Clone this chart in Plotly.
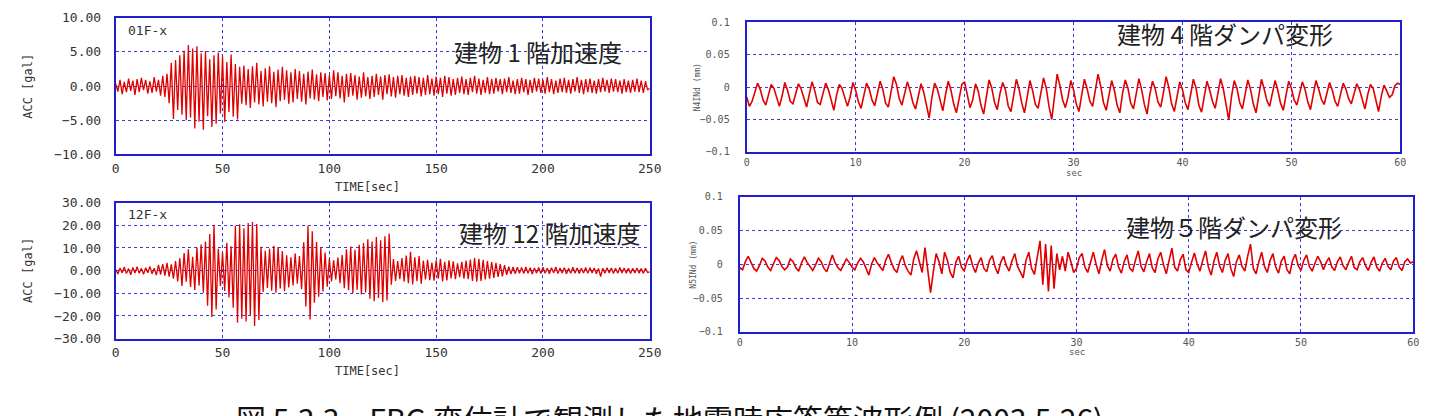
import numpy as np
import plotly.graph_objects as go

# ---------------- data ----------------
acc_dt = 1.0  # sec per sample (left panels)
acc01 = [
    0.3, -0.8, 0.9, -1.2, 0.6, -0.9, 1.1, -0.7, 0.8, -1.3,
    1.0, -0.9, 1.2, -0.6, 0.9, -1.1, 0.7, -1.0, 1.3, -0.8,
    0.9, -1.4, 1.5, -1.6, 1.8, -2.5, 3.4, -4.8, 3.8, -3.5,
    4.5, -4.2, 5.2, -5.0, 6.0, -4.6, 5.5, -6.2, 5.8, -5.2,
    4.8, -6.4, 5.1, -4.4, 3.9, -6.0, 4.5, -5.5, 4.9, -4.0,
    4.3, -5.2, 3.5, -3.8, 4.6, -4.5, 3.2, -4.9, 2.8, -2.6,
    3.0, -2.8, 2.5, -3.2, 2.9, -2.4, 3.4, -2.7, 2.2, -3.0,
    2.6, -2.3, 2.9, -2.5, 2.1, -3.1, 2.4, -2.2, 2.8, -2.0,
    2.3, -2.6, 2.0, -2.4, 2.5, -1.9, 2.2, -2.3, 1.8, -2.7,
    2.1, -1.8, 2.4, -2.0, 1.7, -2.2, 2.0, -1.6, 1.9, -2.1,
    1.6, -1.9, 2.3, -1.5, 2.0, -1.8, 1.5, -2.4, 1.8, -1.6,
    1.9, -1.4, 1.6, -2.0, 1.4, -1.7, 2.0, -1.5, 1.3, -1.9,
    1.5, -1.6, 1.8, -1.3, 1.4, -2.0, 1.6, -1.2, 1.7, -1.5,
    1.3, -1.7, 1.5, -1.2, 1.6, -1.4, 1.2, -1.6, 1.4, -1.3,
    1.5, -1.1, 1.3, -1.5, 1.2, -1.3, 1.6, -1.2, 1.1, -1.4,
    1.4, -1.2, 1.2, -1.6, 1.5, -1.1, 1.3, -1.4, 1.0, -1.3,
    1.2, -1.0, 1.4, -1.2, 1.0, -1.3, 1.2, -0.9, 1.5, -1.1,
    1.1, -1.3, 0.9, -1.0, 1.3, -1.2, 1.0, -1.1, 1.2, -0.8,
    1.0, -1.2, 1.1, -0.9, 1.3, -1.0, 0.8, -1.2, 1.0, -1.1,
    1.2, -0.9, 1.0, -1.3, 0.9, -1.0, 1.2, -0.8, 1.1, -1.0,
    0.9, -1.1, 1.3, -0.9, 1.0, -1.2, 0.8, -1.0, 1.1, -0.9,
    1.2, -1.0, 0.9, -1.1, 1.0, -0.8, 1.3, -1.0, 0.9, -1.2,
    1.0, -0.9, 1.1, -1.0, 0.8, -1.1, 1.0, -0.9, 1.2, -0.8,
    0.9, -1.0, 1.1, -0.8, 1.0, -0.9, 0.8, -1.1, 1.0, -0.9,
    0.8, -1.0, 0.9, -0.8, 1.1, -0.9, 0.8, -1.0, 0.7, -0.6, -0.3,
]
acc12 = [
    0.5, -1.5, 1.2, -1.0, 1.6, -1.3, 0.9, -1.8, 1.4, -1.1,
    1.7, -1.2, 1.0, -1.6, 1.3, -0.9, 1.8, -1.4, 1.1, -2.0,
    2.5, -1.8, 2.9, -2.2, 3.4, -2.6, 2.8, -3.5, 4.2, -4.8,
    5.5, -6.8, 7.8, -4.9, 9.4, -7.2, 6.1, -8.5, 10.2, -6.6,
    11.5, -9.8, 12.8, -15.5, 16.2, -20.5, 20.3, -17.2, 9.6, -6.8,
    7.9, -9.0, 12.3, -11.8, 10.7, -16.4, 19.8, -23.0, 20.5, -21.2,
    18.7, -22.4, 21.0, -19.6, 21.5, -24.4, 20.6, -21.8, 10.5, -9.4,
    8.8, -7.6, 9.7, -8.9, 11.0, -9.8, 10.4, -7.9, 8.6, -9.1,
    6.8, -7.4, 5.9, -6.5, 7.6, -5.8, 6.4, -8.2, 12.5, -15.8,
    19.8, -21.6, 17.4, -14.2, 12.6, -11.5, 10.3, -9.2, 8.0, -7.1,
    5.2, -4.8, 4.5, -3.9, 5.8, -5.5, 6.9, -7.8, 9.4, -8.6,
    10.6, -9.9, 9.2, -8.4, 11.4, -10.5, 12.2, -9.6, 13.8, -12.4,
    12.9, -13.5, 14.8, -12.1, 13.4, -14.0, 15.2, -13.2, 16.4, -6.2,
    5.1, -4.6, 4.2, -3.8, 5.6, -4.9, 6.7, -5.5, 8.3, -6.1,
    5.9, -4.7, 6.4, -5.8, 4.4, -3.9, 4.8, -4.2, 3.6, -4.4,
    4.5, -3.6, 5.2, -4.8, 3.9, -4.3, 4.6, -3.4, 4.1, -3.8,
    3.2, -2.9, 3.9, -3.5, 4.4, -3.8, 4.9, -4.6, 5.6, -4.9,
    5.2, -4.5, 4.8, -3.9, 4.2, -3.6, 3.8, -3.2, 3.4, -2.8,
    2.9, -2.5, 2.4, -1.9, 1.8, -1.5, 1.6, -1.4, 1.5, -1.2,
    1.4, -1.3, 1.6, -1.2, 1.3, -1.5, 1.2, -1.1, 1.4, -1.3,
    1.5, -1.2, 1.1, -1.4, 1.3, -1.0, 1.6, -1.3, 1.2, -1.1,
    1.3, -1.4, 1.0, -1.2, 1.5, -1.1, 1.2, -1.3, 1.1, -1.0,
    1.4, -1.2, 1.3, -1.0, 1.2, -1.4, 1.0, -2.6, 1.1, -1.2,
    1.3, -1.0, 1.2, -1.3, 1.1, -1.2, 1.4, -1.0, 1.2, -1.1,
    1.0, -1.3, 1.1, -1.0, 1.2, -1.1, 0.9, -1.2, 1.0, -0.8, -0.5,
]

dmp_dt = 0.25  # sec per sample (right panels)
n4ind = [
    -0.015, -0.030, -0.022, -0.008, 0.006, -0.004, -0.020, -0.028, -0.012, 0.004, -0.002, -0.018, -0.030, -0.014, 0.007, -0.005, -0.022, -0.026, -0.010, 0.005,
    -0.003, -0.019, -0.031, -0.011, 0.008, -0.006, -0.024, -0.027, -0.009, 0.006, -0.004, -0.021, -0.036, -0.013, 0.004, -0.002, -0.018, -0.030, -0.015, 0.007,
    -0.005, -0.023, -0.033, -0.012, 0.006, -0.003, -0.020, -0.029, -0.008, 0.009, -0.004, -0.025, -0.031, -0.010, 0.016, 0.004, -0.018, -0.028, -0.011, 0.008,
    -0.006, -0.024, -0.034, -0.014, 0.005, -0.008, -0.030, -0.048, -0.016, 0.006, -0.003, -0.022, -0.037, -0.012, 0.009, -0.005, -0.026, -0.040, -0.015, 0.004,
    0.008, -0.014, -0.032, -0.020, 0.005, -0.006, -0.028, -0.042, -0.013, 0.011, -0.002, -0.024, -0.035, -0.010, 0.007, -0.004, -0.029, -0.038, -0.014, 0.012,
    -0.003, -0.025, -0.040, -0.011, 0.010, -0.006, -0.027, -0.033, -0.009, 0.014, -0.002, -0.030, -0.050, -0.012, 0.020, 0.002, -0.020, -0.032, -0.015, 0.010,
    -0.004, -0.026, -0.038, -0.012, 0.012, -0.003, -0.022, -0.030, -0.008, 0.020, 0.001, -0.024, -0.036, -0.013, 0.010, -0.005, -0.028, -0.040, -0.010, 0.011,
    -0.002, -0.025, -0.034, -0.011, 0.013, -0.004, -0.027, -0.042, -0.012, 0.009, -0.003, -0.023, -0.031, -0.009, 0.016, -0.001, -0.026, -0.038, -0.014, 0.008,
    -0.004, -0.024, -0.035, -0.010, 0.012, -0.002, -0.028, -0.039, -0.013, 0.009, -0.005, -0.022, -0.033, -0.011, 0.013, -0.003, -0.030, -0.051, -0.015, 0.010,
    -0.002, -0.024, -0.034, -0.012, 0.011, -0.004, -0.026, -0.040, -0.010, 0.012, -0.003, -0.021, -0.030, -0.008, 0.010, -0.005, -0.025, -0.036, -0.012, 0.009,
    -0.002, -0.020, -0.028, -0.009, 0.008, -0.004, -0.023, -0.035, -0.011, 0.010, -0.003, -0.019, -0.027, -0.012, 0.007, -0.005, -0.022, -0.030, -0.010, 0.006,
    -0.003, -0.018, -0.026, -0.011, 0.005, -0.004, -0.021, -0.034, -0.012, 0.004, -0.002, -0.020, -0.038, -0.014, 0.003, -0.006, -0.016, -0.012, 0.002, 0.006,
    0.004,
]
n5ind = [
    -0.005, -0.008, 0.004, 0.012, 0.003, -0.006, -0.010, -0.002, 0.009, 0.005, -0.004, -0.009, 0.001, 0.010, 0.006, -0.003, -0.008, -0.004, 0.008, 0.004,
    -0.005, -0.010, 0.002, 0.011, 0.003, -0.004, -0.009, -0.001, 0.009, 0.004, -0.006, -0.011, 0.003, 0.014, 0.002, -0.005, -0.009, 0.000, 0.008, 0.003,
    -0.004, -0.008, 0.002, 0.009, 0.004, -0.006, -0.016, 0.001, 0.010, 0.002, -0.003, -0.009, 0.006, 0.015, 0.003, -0.007, -0.012, 0.004, 0.013, -0.002,
    -0.010, -0.016, 0.008, 0.020, 0.004, -0.012, 0.025, -0.008, -0.042, -0.010, 0.016, 0.004, -0.014, 0.018, 0.006, -0.012, -0.020, 0.003, 0.012, -0.004,
    -0.010, 0.005, 0.014, -0.002, -0.012, 0.002, 0.010, -0.006, -0.011, 0.006, 0.013, -0.004, -0.014, 0.003, 0.012, -0.002, -0.010, 0.005, 0.016, -0.003,
    -0.012, -0.020, 0.006, 0.018, -0.006, -0.015, 0.010, 0.035, -0.030, 0.030, -0.040, 0.028, -0.036, 0.016, -0.008, 0.012, -0.010, 0.018, 0.004, -0.012,
    -0.006, 0.010, 0.016, -0.004, -0.012, 0.005, 0.018, 0.000, -0.014, 0.006, 0.022, -0.002, -0.010, 0.008, 0.015, -0.004, -0.013, 0.004, 0.014, -0.006,
    -0.010, 0.006, 0.020, -0.003, -0.011, 0.004, 0.016, -0.005, -0.012, 0.008, 0.018, 0.000, -0.014, 0.006, 0.024, -0.004, -0.010, 0.007, 0.015, -0.008,
    -0.012, 0.003, 0.017, 0.001, -0.010, 0.006, 0.020, -0.004, -0.016, 0.005, 0.018, -0.002, -0.012, 0.006, 0.016, -0.006, -0.018, 0.004, 0.014, -0.003,
    -0.010, 0.012, 0.030, -0.006, -0.014, 0.004, 0.018, -0.003, -0.012, 0.006, 0.016, -0.004, -0.013, 0.005, 0.012, -0.008, -0.014, 0.006, 0.015, -0.002,
    -0.009, 0.006, 0.014, -0.003, -0.010, 0.002, 0.012, 0.004, -0.008, 0.003, 0.010, -0.004, -0.009, 0.004, 0.011, -0.002, -0.008, 0.003, 0.012, -0.005,
    -0.008, 0.004, 0.010, -0.002, -0.009, 0.003, 0.011, -0.004, -0.010, 0.002, 0.009, -0.003, -0.008, 0.005, 0.010, -0.004, -0.009, 0.004, 0.008, 0.002,
    0.004,
]

acc_xticks = [0, 50, 100, 150, 200, 250]
acc01_yticks = [-10, -5, 0, 5, 10]
acc12_yticks = [-30, -20, -10, 0, 10, 20, 30]
dmp_xticks = [0, 10, 20, 30, 40, 50, 60]
dmp_yticks = [-0.1, -0.05, 0, 0.05, 0.1]

panel_labels = ["01F-x", "12F-x"]
panel_titles = ["建物 1 階加速度", "建物 12 階加速度", "建物 4 階ダンパ変形", "建物５階ダンパ変形"]
caption = "図 5.3.3　FBG 変位計で観測した地震時応答等波形例 (2003.5.26)"

# ---------------- figure ----------------
W, H = 1445, 416
def px(x):
    return x / W
def py(y):
    return 1 - y / H

t01 = np.arange(len(acc01)) * acc_dt
t12 = np.arange(len(acc12)) * acc_dt
t4 = np.arange(len(n4ind)) * dmp_dt
t5 = np.arange(len(n5ind)) * dmp_dt

RED = "#e00000"
BLUE = "#1f1fd0"
GRID = "#3a3ae0"

fig = go.Figure()
fig.add_trace(go.Scatter(x=t01, y=acc01, mode="lines", line=dict(color=RED, width=1.3), xaxis="x", yaxis="y"))
fig.add_trace(go.Scatter(x=t12, y=acc12, mode="lines", line=dict(color=RED, width=1.3), xaxis="x2", yaxis="y2"))
fig.add_trace(go.Scatter(x=t4, y=n4ind, mode="lines", line=dict(color=RED, width=1.6), xaxis="x3", yaxis="y3"))
fig.add_trace(go.Scatter(x=t5, y=n5ind, mode="lines", line=dict(color=RED, width=1.6), xaxis="x4", yaxis="y4"))

def ax(domain, rng, tickvals, anchor, fsize, fcolor, standoff, fmt=None):
    d = dict(domain=domain, range=rng, tickvals=tickvals, anchor=anchor,
             showline=True, mirror=True, linecolor=BLUE, linewidth=2,
             showgrid=True, gridcolor=GRID, gridwidth=1, griddash="dot",
             zeroline=False, ticks="", ticklabelstandoff=standoff,
             tickfont=dict(family="DejaVu Sans Mono, monospace", size=fsize, color=fcolor))
    if fmt:
        d["tickformat"] = fmt
    return d

LF, LC = 13, "#333333"
RF, RC = 10, "#555555"

fig.update_layout(
    width=W, height=H, margin=dict(l=0, r=0, t=0, b=0),
    paper_bgcolor="white", plot_bgcolor="white", showlegend=False,
    xaxis=ax([px(113), px(653)], [0, 250], acc_xticks, "y", LF, LC, 1),
    yaxis=ax([py(153), py(11)], [-10, 10], acc01_yticks, "x", LF, LC, 10, ".2f"),
    xaxis2=ax([px(113), px(653)], [0, 250], acc_xticks, "y2", LF, LC, 1),
    yaxis2=ax([py(344), py(203)], [-30, 30], acc12_yticks, "x2", LF, LC, 10, ".2f"),
    xaxis3=ax([px(751), px(1412)], [0, 60], dmp_xticks, "y3", RF, RC, 0),
    yaxis3=ax([py(150), py(16)], [-0.1, 0.1], dmp_yticks, "x3", RF, RC, 13),
    xaxis4=ax([px(744), px(1425)], [0, 60], dmp_xticks, "y4", RF, RC, 0),
    yaxis4=ax([py(337), py(197)], [-0.1, 0.1], dmp_yticks, "x4", RF, RC, 13),
)

ann = []
def text(x, y, s, size, color="#222222", angle=0, xanchor="center", yanchor="middle", family="Noto Sans CJK JP"):
    ann.append(dict(x=px(x), y=py(y), xref="paper", yref="paper", text=s, showarrow=False,
                    xanchor=xanchor, yanchor=yanchor, textangle=angle,
                    font=dict(family=family, size=size, color=color)))

mono = "DejaVu Sans Mono, monospace"
# axis titles
text(24, 82, "ACC [gal]", 12, LC, -90, family=mono)
text(24, 273, "ACC [gal]", 12, LC, -90, family=mono)
text(368, 187, "TIME[sec]", 12, LC, family=mono)
text(368, 378, "TIME[sec]", 12, LC, family=mono)
text(701, 83, "N4INd (mm)", 8, RC, -90, family=mono)
text(697, 267, "N5INd (mm)", 8, RC, -90, family=mono)
text(1082, 172, "sec", 9, RC, family=mono)
text(1085, 358, "sec", 9, RC, family=mono)
# panel labels
text(123, 24, panel_labels[0], 13, LC, xanchor="left", family=mono)
text(123, 215, panel_labels[1], 13, LC, xanchor="left", family=mono)
# titles
text(540, 46, panel_titles[0], 24)
text(552, 234, panel_titles[1], 24)
text(1235, 27, panel_titles[2], 24)
text(1244, 228, panel_titles[3], 24)
# caption (cut by the bottom edge, as in the reference)
ann.append(dict(x=px(233), y=py(401), xref="paper", yref="paper", text=caption, showarrow=False,
                xanchor="left", yanchor="top",
                font=dict(family="Noto Sans CJK JP", size=30, color="#111111")))

fig.update_layout(annotations=ann)
fig.write_html("out.html")
